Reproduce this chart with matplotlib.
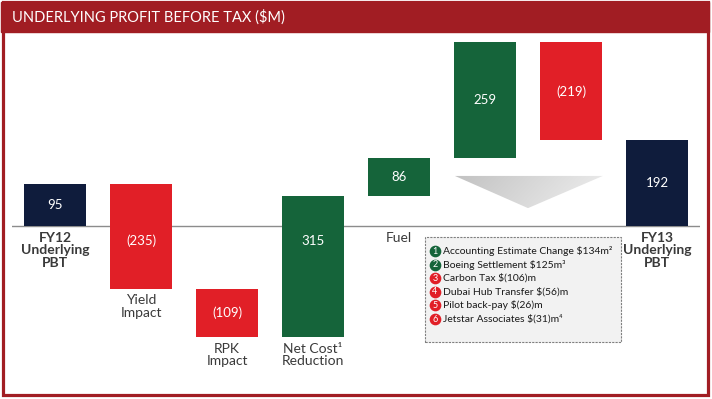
#Underlying profit before tax waterfall
#rebuilds the FY12 -> FY13 bridge chart

import matplotlib.pyplot as plt
import matplotlib.patches as mpatches
import matplotlib.lines as mlines
import numpy as np

plt.rcParams['font.family'] = ['Lato', 'DejaVu Sans']

#chart data
categories = ['FY12\nUnderlying\nPBT', 'Yield\nImpact', 'RPK\nImpact', 'Net Cost¹\nReduction',
              'Fuel', '', '', 'FY13\nUnderlying\nPBT']
values = [95, -235, -109, 315, 86, 259, -219, 192]
is_total = [True, False, False, False, False, False, False, True]

#items listed in the note box (1-2 gains, 3-6 costs)
note_items = ['Accounting Estimate Change $134m²', 'Boeing Settlement $125m³',
              'Carbon Tax $(106)m', 'Dubai Hub Transfer $(56)m',
              'Pilot back-pay $(26)m', 'Jetstar Associates $(31)m⁴']
note_gain = [True, True, False, False, False, False]

#colours
navy = '#0f1c3c'
red = '#e11f27'
green = '#15643a'
frame = '#a11d23'
textgrey = '#3a3a3a'

W, H = 712, 399

def fx(px):
    return px / W

def fy(py):
    return 1 - py / H

fig = plt.figure(figsize=(W / 100, H / 100), dpi=100)
ax = fig.add_axes([fx(12), fy(390), (700 - 12) / W, (390 - 34) / H])

#work out where each floating bar starts
bottoms = []
colors = []
running = 0
for v, t in zip(values, is_total):
    if t:
        bottoms.append(0)
        running = v
        colors.append(navy)
    else:
        bottoms.append(running)
        running += v
        colors.append(green if v > 0 else red)

x = np.arange(len(values))
ax.bar(x, values, bottom=bottoms, width=0.72, color=colors, zorder=2)

#value labels and category labels
for i in range(len(values)):
    lo = min(bottoms[i], bottoms[i] + values[i])
    hi = max(bottoms[i], bottoms[i] + values[i])
    if lo < 0 < hi:
        ly = -33
    else:
        ly = (lo + hi) / 2
    if values[i] > 0:
        lab = str(values[i])
    else:
        lab = '(%d)' % -values[i]
    ax.text(x[i], ly, lab, ha='center', va='center', color='white', fontsize=9.5, zorder=3)

    if categories[i]:
        ax.annotate(categories[i], (x[i], min(0, lo)), xytext=(0, -4), textcoords='offset points',
                    ha='center', va='top', color=textgrey, fontsize=10, linespacing=1.05,
                    fontweight='bold' if is_total[i] else 'normal')

#zero line across the chart
ax.axhline(0, color='#8c8c8c', lw=1, zorder=1)

#grey arrow under the two one-off bars
tri = mpatches.Polygon([(4.65, 112), (6.37, 112), (5.5, 40)], closed=True,
                       facecolor='none', edgecolor='none')
ax.add_patch(tri)
s = np.linspace(0, 1, 200)[None, :]
t = np.linspace(0, 1, 60)[:, None]
g = np.clip(0.76 + 0.15 * s + 0.03 * t, 0, 1)
img = np.dstack([g, g, g])
im = ax.imshow(img, extent=[4.65, 6.37, 40, 112], aspect='auto', origin='upper', zorder=1)
im.set_clip_path(tri)

ax.set_xlim(-0.5, 7.5)
ax.set_ylim(-(390 - 226) / 0.447, (226 - 34) / 0.447)
ax.axis('off')

#red frame and title bar
fig.add_artist(mpatches.Rectangle((fx(2.5), fy(394.5)), (707.5 - 2.5) / W, (394.5 - 2) / H,
                                  transform=fig.transFigure, fill=False, edgecolor=frame, lw=2.3))
fig.add_artist(mpatches.Rectangle((fx(1), fy(32)), (709 - 1) / W, 30 / H,
                                  transform=fig.transFigure, color=frame))
fig.text(fx(12), fy(17), 'UNDERLYING PROFIT BEFORE TAX ($M)', color='white', fontsize=10.5, va='center')

#note box with numbered items
fig.add_artist(mpatches.Rectangle((fx(425), fy(342)), (621 - 425) / W, (342 - 237) / H,
                                  transform=fig.transFigure, facecolor='#f2f2f2',
                                  edgecolor='#808080', lw=0.8, linestyle=(0, (2, 1))))
for k in range(len(note_items)):
    yy = 251 + 13.6 * k
    dot = mlines.Line2D([fx(435)], [fy(yy)], marker='o', markersize=7.4, linestyle='',
                        color=green if note_gain[k] else red, transform=fig.transFigure)
    fig.add_artist(dot)
    fig.text(fx(435), fy(yy), str(k + 1), color='white', fontsize=6.5, ha='center', va='center')
    fig.text(fx(443), fy(yy), note_items[k], color='#1a1a1a', fontsize=7.5, va='center')

fig.savefig('out.png', dpi=100)
